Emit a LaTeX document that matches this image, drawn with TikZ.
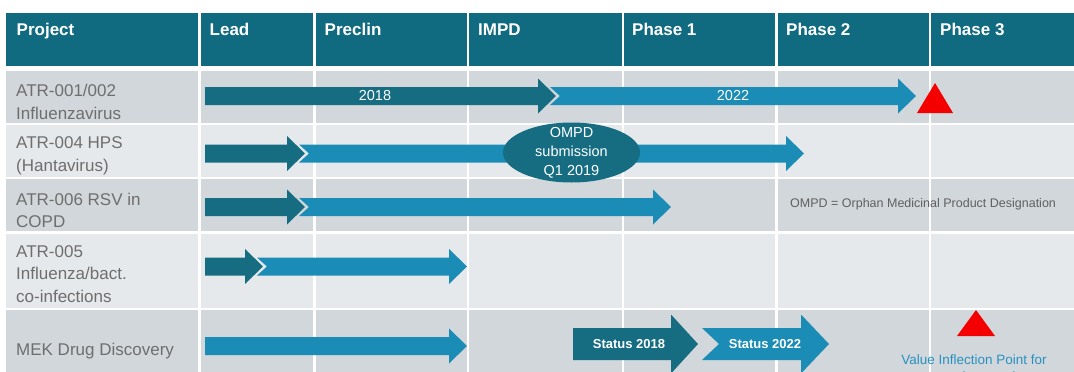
\documentclass[tikz,border=0pt]{standalone}
\usepackage{fontspec}
\setmainfont{Liberation Sans}
\usepackage{tikz}
\usetikzlibrary{shapes,positioning}

\definecolor{hdrteal}{RGB}{16,106,128}
\definecolor{darkteal}{RGB}{22,109,130}
\definecolor{lightblue}{RGB}{26,140,181}
\definecolor{rowgray}{RGB}{210,215,219}
\definecolor{rowlight}{RGB}{230,233,236}
\definecolor{labelgray}{RGB}{110,110,110}
\definecolor{notegray}{RGB}{95,95,95}
\definecolor{vipblue}{RGB}{40,145,192}
\definecolor{vipred}{RGB}{245,0,0}

\tikzset{hdr/.style={anchor=base west, inner sep=0pt, text=white,
    font=\bfseries\fontsize{17}{20}\selectfont},
  proj/.style={anchor=base west, inner sep=0pt, align=left, text=labelgray,
    font=\fontsize{17}{22.5}\selectfont},
  yr/.style={inner sep=0pt, text=white, font=\fontsize{14.5}{17}\selectfont},
  stat/.style={inner sep=0pt, text=white, font=\bfseries\fontsize{13}{15}\selectfont},
  sep/.style={white, line width=2.2pt}}

% colour, tail x, tip x, centre y, notch depth
\newcommand{\barrow}[5]{%
  \fill[#1] (#2,#4-9) -- (#3-18,#4-9) -- (#3-18,#4-17.5) -- (#3,#4)
    -- (#3-18,#4+17.5) -- (#3-18,#4+9) -- (#2,#4+9) -- (#2+#5,#4) -- cycle;}

\begin{document}
\begin{tikzpicture}[x=1pt, y=-1pt, line cap=round]

    \useasboundingbox (0,0) rectangle (1074,372);
    \clip (0,0) rectangle (1074,372);

    % table
    \fill[hdrteal] (6,13.3) rectangle (1074,66);
    \fill[rowgray] (6,70.5) rectangle (1074,122.5);
    \fill[rowlight] (6,124.5) rectangle (1074,177);
    \fill[rowgray] (6,179) rectangle (1074,231);
    \fill[rowlight] (6,234) rectangle (1074,308);
    \fill[rowgray] (6,310) rectangle (1074,372);

    \foreach \cx in {199.5,314.5,468,623,776.5,930}
      \draw[sep] (\cx,13.3) -- (\cx,372);

    \draw (16.5,35) node[hdr] (hproj) {Project};
    \draw (209.5,35) node[hdr] (hlead) {Lead};
    \draw (324.5,35) node[hdr] (hpre) {Preclin};
    \draw (478,35) node[hdr] (himpd) {IMPD};
    \draw (632,35) node[hdr] (hph1) {Phase 1};
    \draw (786,35) node[hdr] (hph2) {Phase 2};
    \draw (940,35) node[hdr] (hph3) {Phase 3};

    % base = last line
    \draw (16,119) node[proj] (p1) {ATR-001/002\\Influenzavirus};
    \draw (16,171) node[proj] (p2) {ATR-004 HPS\\(Hantavirus)};
    \draw (16,227.5) node[proj] (p3) {ATR-006 RSV in\\COPD};
    \draw (16,302) node[proj] (p4) {ATR-005\\Influenza/bact.\\co-infections};
    \draw (16,355.5) node[proj] (p5) {MEK Drug Discovery};

    % pipeline arrows
    \barrow{darkteal}{205}{556}{96}{0}
    \barrow{lightblue}{550}{916}{96}{10}
    \barrow{lightblue}{299}{804}{153.5}{10}
    \barrow{darkteal}{205}{305}{153.5}{0}
    \barrow{darkteal}{205}{305}{207}{0}
    \barrow{lightblue}{299}{671}{207}{10}
    \barrow{darkteal}{205}{263}{266.5}{0}
    \barrow{lightblue}{257}{467}{266.5}{10}
    \barrow{lightblue}{205}{467}{346}{0}

    \draw (375,96) node[yr] (y18) {2018};
    \draw (733,96) node[yr] (y22) {2022};

    \fill[darkteal] (571.5,152.5) ellipse (68.5 and 30);
    \draw (571.5,152.5) node[yr, align=center, font=\fontsize{14.5}{19}\selectfont] (ompd)
      {OMPD\\submission\\Q1 2019};

    \draw (790,204) node[anchor=west, inner sep=0pt, text=notegray,
      font=\fontsize{12.5}{15}\selectfont] (note) {OMPD = Orphan Medicinal Product Designation};

    % legend
    \fill[darkteal] (573,328) -- (671,328) -- (671,314.5) -- (698,344) -- (671,373.5)
      -- (671,360) -- (573,360) -- cycle;
    \fill[lightblue] (702,328) -- (801,328) -- (801,314.5) -- (829,344) -- (801,373.5)
      -- (801,360) -- (702,360) -- (719,344) -- cycle;
    \draw (629,344) node[stat] (s18) {Status 2018};
    \draw (765,344) node[stat] (s22) {Status 2022};

    \fill[vipred] (917,113) -- (935,83) -- (953,113) -- cycle;
    \fill[vipred] (957,336) -- (976,310) -- (995,336) -- cycle;
    \draw (974,381) node[anchor=base, inner sep=0pt, align=center, text=vipblue,
      font=\fontsize{13.5}{17}\selectfont] (vip) {Value Inflection Point for\\external partnering};

\end{tikzpicture}
\end{document}
